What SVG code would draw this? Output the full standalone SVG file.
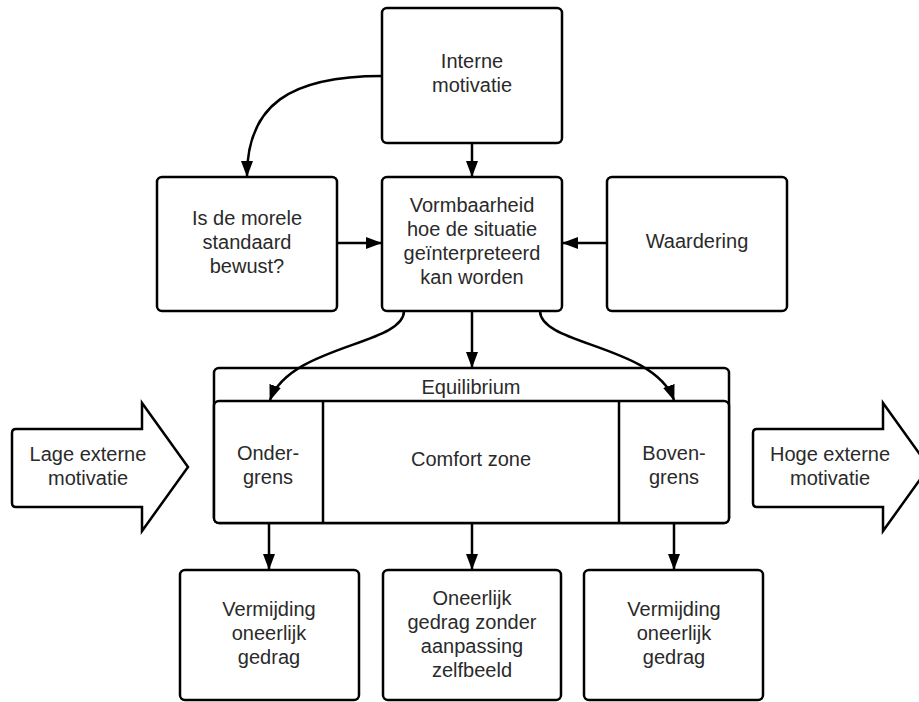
<svg xmlns="http://www.w3.org/2000/svg" width="919" height="702" viewBox="0 0 919 702">
<style>
.box{fill:#fff;stroke:#000;stroke-width:2.5}
.ln{fill:none;stroke:#000;stroke-width:2.5}
text{font-family:"Liberation Sans",Arial,sans-serif;font-size:20px;fill:#2a2a2a;text-anchor:middle}
</style>
<defs>
<marker id="ah" markerWidth="16" markerHeight="12" refX="15" refY="6" orient="auto" markerUnits="userSpaceOnUse">
<path d="M0,0 L16,6 L0,12 Z" fill="#000"/>
</marker>
</defs>
<rect width="919" height="702" fill="#fff"/>
<g id="interne">
<rect class="box" x="382" y="8" width="180" height="135" rx="5"/>
<text x="472" y="68">Interne</text>
<text x="472" y="92">motivatie</text>
</g>
<g id="moreel">
<rect class="box" x="157" y="177" width="180" height="134" rx="5"/>
<text x="247" y="225">Is de morele</text>
<text x="247" y="249">standaard</text>
<text x="247" y="273">bewust?</text>
</g>
<g id="vormbaarheid">
<rect class="box" x="382" y="177" width="180" height="134" rx="5"/>
<text x="472" y="212">Vormbaarheid</text>
<text x="472" y="236">hoe de situatie</text>
<text x="472" y="260">geïnterpreteerd</text>
<text x="472" y="284">kan worden</text>
</g>
<g id="waardering">
<rect class="box" x="607" y="177" width="180" height="134" rx="5"/>
<text x="697" y="248">Waardering</text>
</g>
<g id="equilibrium">
<rect class="box" x="214" y="368" width="515" height="155" rx="5"/>
<rect class="box" x="214" y="401" width="515" height="122" rx="5"/>
<line class="ln" x1="323" y1="401" x2="323" y2="523"/>
<line class="ln" x1="619" y1="401" x2="619" y2="523"/>
<text x="471" y="394">Equilibrium</text>
</g>
<g id="ondergrens">
<text x="268" y="460">Onder-</text>
<text x="268" y="484">grens</text>
</g>
<g id="comfort">
<text x="471" y="466">Comfort zone</text>
</g>
<g id="bovengrens">
<text x="674" y="460">Boven-</text>
<text x="674" y="484">grens</text>
</g>
<g id="lage">
<path class="box" d="M12,433 Q12,429 16,429 L142,429 L142,403 L188,467 L142,531 L142,507 L16,507 Q12,507 12,503 Z"/>
<text x="88" y="461">Lage externe</text>
<text x="88" y="485">motivatie</text>
</g>
<g id="hoge">
<path class="box" d="M753,433 Q753,429 757,429 L883,429 L883,403 L929,467 L883,531 L883,507 L757,507 Q753,507 753,503 Z"/>
<text x="830" y="461">Hoge externe</text>
<text x="830" y="485">motivatie</text>
</g>
<g id="vermijding1">
<rect class="box" x="180" y="570" width="179" height="130" rx="5"/>
<text x="269" y="616">Vermijding</text>
<text x="269" y="640">oneerlijk</text>
<text x="269" y="664">gedrag</text>
</g>
<g id="oneerlijk">
<rect class="box" x="383" y="570" width="178" height="130" rx="5"/>
<text x="472" y="605">Oneerlijk</text>
<text x="472" y="629">gedrag zonder</text>
<text x="472" y="653">aanpassing</text>
<text x="472" y="677">zelfbeeld</text>
</g>
<g id="vermijding2">
<rect class="box" x="584" y="570" width="179" height="130" rx="5"/>
<text x="674" y="616">Vermijding</text>
<text x="674" y="640">oneerlijk</text>
<text x="674" y="664">gedrag</text>
</g>
<g id="connectors">
<path class="ln" d="M472,143 L472,176" marker-end="url(#ah)"/>
<path class="ln" d="M382,76 C290,76 247,105 247,176" marker-end="url(#ah)"/>
<path class="ln" d="M337,243 L381,243" marker-end="url(#ah)"/>
<path class="ln" d="M607,243 L563,243" marker-end="url(#ah)"/>
<path class="ln" d="M472,311 L472,367" marker-end="url(#ah)"/>
<path class="ln" d="M404,311 C404,345 290,345 270,400" marker-end="url(#ah)"/>
<path class="ln" d="M540,311 C540,345 654,345 674,400" marker-end="url(#ah)"/>
<path class="ln" d="M269,523 L269,569" marker-end="url(#ah)"/>
<path class="ln" d="M472,523 L472,569" marker-end="url(#ah)"/>
<path class="ln" d="M674,523 L674,569" marker-end="url(#ah)"/>
</g>
</svg>
